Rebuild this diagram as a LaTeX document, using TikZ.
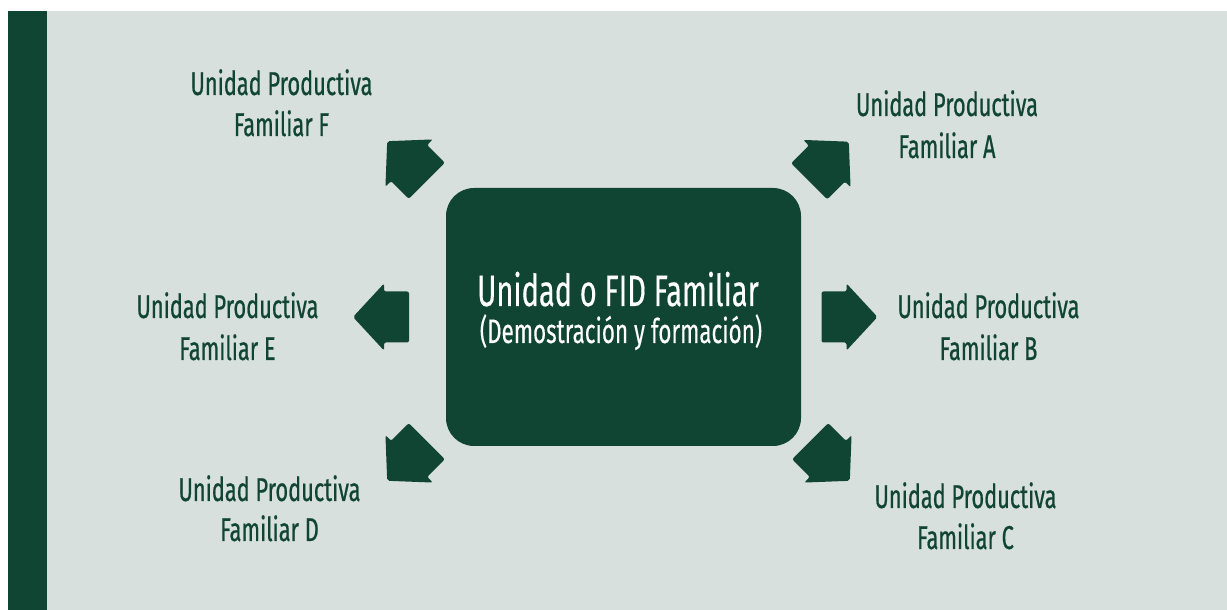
\documentclass[tikz,border=0pt]{standalone}
\usepackage{fontspec}
\newfontfamily\lab[FakeStretch=0.66,FakeBold=0.6]{Fira Sans}
\newfontfamily\midfont[FakeStretch=0.66,FakeBold=0.3]{Fira Sans}
\definecolor{dkgreen}{RGB}{16,69,51}
\definecolor{bggray}{RGB}{216,224,221}
\tikzset{
  lbl/.style={font=\lab\fontsize{33}{40}\selectfont, text=dkgreen, inner sep=0pt, anchor=base},
  mid/.style={font=\midfont\fontsize{44}{50}\selectfont, text=white, inner sep=0pt, anchor=base},
  midsub/.style={font=\midfont\fontsize{34}{40}\selectfont, text=white, inner sep=0pt, anchor=base},
  blockarrow/.style={fill=dkgreen, rounded corners=2pt}
}
\newcommand{\bigarrow}[3]{%
  \fill[blockarrow, shift={(#1,#2)}, rotate=#3]
    (28,0) -- (-3,33.5) -- (-3,25.5) -- (-28,25.5) -- (-28,-25.5) -- (-3,-25.5) -- (-3,-33.5) -- cycle;}
\begin{document}
\begin{tikzpicture}[x=1pt,y=1pt]
\useasboundingbox (0,0) rectangle (1227,610);
\fill[white] (0,0) rectangle (1227,610);
\fill[bggray] (8,0) rectangle (1227,599);
\fill[dkgreen] (8,0) rectangle (47,599);
% central box
\fill[dkgreen, rounded corners=28pt] (446,164) rectangle (801,422);
\node[mid] (c1) at (618,304) {Unidad o FID Familiar};
\node[midsub] (c2) at (621,267) {(Demostración y formación)};
% arrows
\bigarrow{407}{449}{135}
\bigarrow{829}{448.5}{45}
\bigarrow{381}{293}{180}
\bigarrow{849.5}{293}{0}
\bigarrow{407}{149}{225}
\bigarrow{830}{149}{-45}
% labels
\node[lbl] (f1) at (281.5,515) {Unidad Productiva};
\node[lbl] (f2) at (281.5,474) {Familiar F};
\node[lbl] (a1) at (947,494) {Unidad Productiva};
\node[lbl] (a2) at (947,452) {Familiar A};
\node[lbl] (e1) at (227.5,292) {Unidad Productiva};
\node[lbl] (e2) at (227.5,250) {Familiar E};
\node[lbl] (b1) at (988.5,292) {Unidad Productiva};
\node[lbl] (b2) at (988.5,250) {Familiar B};
\node[lbl] (d1) at (269.5,109) {Unidad Productiva};
\node[lbl] (d2) at (269.5,69) {Familiar D};
\node[lbl] (cc1) at (965.5,102) {Unidad Productiva};
\node[lbl] (cc2) at (965.5,61) {Familiar C};
\end{tikzpicture}
\end{document}
